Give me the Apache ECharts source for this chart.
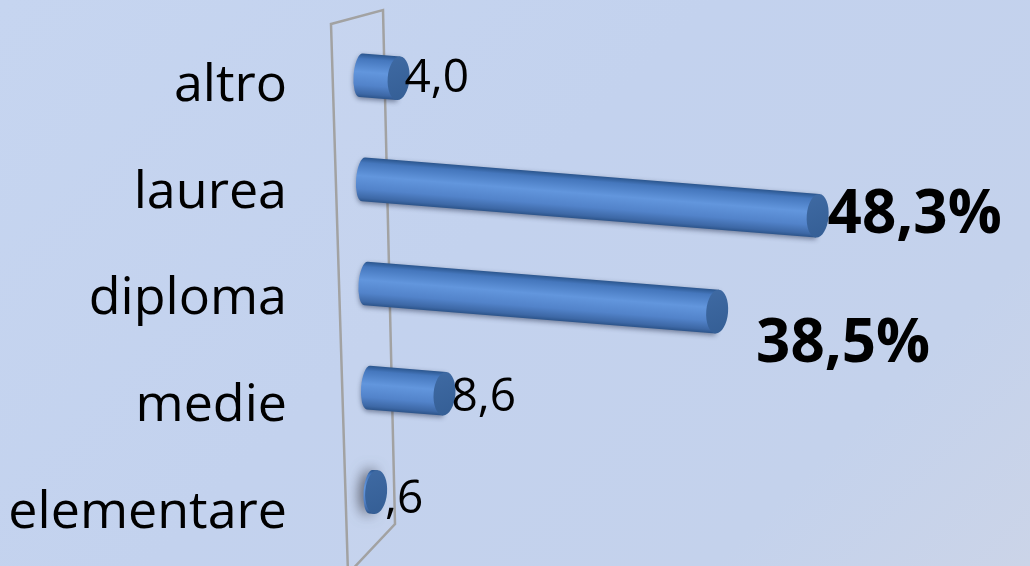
<!DOCTYPE html>
<html><head><meta charset="utf-8">
<script src="https://cdn.jsdelivr.net/npm/echarts@6/dist/echarts.min.js"></script>
<style>
html,body{margin:0;padding:0;}
#c{width:1030px;height:566px;background:linear-gradient(135deg,#c6d5f0 0%,#c3d2ee 45%,#c4d2ec 80%,#cbd4e8 100%);}
</style>
</head><body><div id="c"></div>
<script>
// ---- data ----
const categories = ['altro', 'laurea', 'diploma', 'medie', 'elementare'];
const values = [4.0, 48.3, 38.5, 8.6, 0.6];
const valueLabels = ['4,0', '48,3%', '38,5%', '8,6', ',6'];

// ---- styling config ----
const FONT = '"Open Sans", "Noto Sans", "DejaVu Sans", sans-serif';
const labelNudge = [[-6, 1], [-2, 0], [27, 33], [-5, 4], [-3, 8]];

const chart = echarts.init(document.getElementById('c'), null, { renderer: 'canvas' });

function cylinder(params, api) {
  const i = api.value(1), v = api.value(0);
  const origin = api.coord([0, i]);
  const band = api.size([0, 1])[1];
  const h = band * 0.41;
  const f = Math.min(1, 1 - 0.03 * (i - 1));   // mild perspective
  const L = Math.max((api.coord([v, i])[0] - origin[0]) * f, 0.5);
  const x0 = origin[0] + 4 + 2.5 * i;
  const yc = origin[1] - 11 - 2.5 * i;
  const ang = 0.08;
  const rxL = h * 0.17, rxR = h * 0.25;
  const ex = x0 + L * Math.cos(ang), ey = yc + L * Math.sin(ang);
  const bodyGrad = new echarts.graphic.LinearGradient(0, 0, 0, 1, [
    { offset: 0, color: '#2b568e' },
    { offset: 0.12, color: '#4577bd' },
    { offset: 0.42, color: '#6296dd' },
    { offset: 0.72, color: '#5283ca' },
    { offset: 0.92, color: '#3d68a6' },
    { offset: 1, color: '#2c548a' }
  ]);
  const capGrad = new echarts.graphic.LinearGradient(0, 0, 1, 1, [
    { offset: 0, color: '#3f6aa3' },
    { offset: 1, color: '#345e95' }
  ]);
  const hh = h / 2;
  const path = 'M0,' + (-hh) + ' L' + L + ',' + (-hh) + ' L' + L + ',' + hh + ' L0,' + hh +
    ' A' + rxL + ',' + hh + ' 0 0 1 0,' + (-hh) + ' Z';
  const tiny = L < 10;
  const shadow = tiny
    ? { shadowColor: 'rgba(50,50,60,0.85)', shadowBlur: 14, shadowOffsetX: -3, shadowOffsetY: 0 }
    : { shadowColor: 'rgba(10,20,50,0.45)', shadowBlur: 5, shadowOffsetY: 2 };
  const big = valueLabels[i].indexOf('%') >= 0;
  const nd = labelNudge[i];
  return {
    type: 'group',
    children: [
      {
        type: 'group', x: x0, y: yc, rotation: -ang,
        children: [
          { type: 'path', shape: { pathData: path }, style: Object.assign({ fill: bodyGrad }, shadow) },
          { type: 'ellipse', shape: { cx: L, cy: 0, rx: rxR, ry: hh }, style: { fill: capGrad } }
        ]
      },
      {
        type: 'text',
        style: {
          text: valueLabels[i],
          x: ex + rxR + 1 + nd[0], y: ey + nd[1],
          fill: '#000',
          fontFamily: FONT,
          fontSize: big ? 60 : 46,
          fontWeight: big ? 'bold' : 'normal',
          align: 'left', verticalAlign: 'middle'
        }
      }
    ]
  };
}

function wall(params, api) {
  const cs = params.coordSys;
  const x0 = api.coord([0, 0])[0];
  const top = cs.y, bottom = cs.y + cs.height;
  return {
    type: 'polygon',
    shape: { points: [[x0 - 26, top - 9], [x0 + 26, top - 23], [x0 + 38, bottom - 42], [x0 - 9, bottom + 8]] },
    style: { fill: 'rgba(255,255,255,0.04)', stroke: '#a2a2a2', lineWidth: 2.5 }
  };
}

chart.setOption({
  animation: false,
  grid: { left: 357, top: 33, width: 566, height: 544 },
  xAxis: { type: 'value', min: 0, max: 60, show: false },
  yAxis: {
    type: 'category', data: categories, inverse: true,
    axisLine: { show: false }, axisTick: { show: false }, splitLine: { show: false },
    axisLabel: { color: '#000', fontSize: 52, fontFamily: FONT, margin: 70 }
  },
  series: [
    { type: 'custom', renderItem: wall, data: [[0, 0]], encode: { x: 0, y: 1 }, clip: false, silent: true, z: 1 },
    { type: 'custom', renderItem: cylinder, data: values.map((v, i) => [v, i]), encode: { x: 0, y: 1 }, clip: false, z: 2 }
  ]
});
</script>
</body></html>
